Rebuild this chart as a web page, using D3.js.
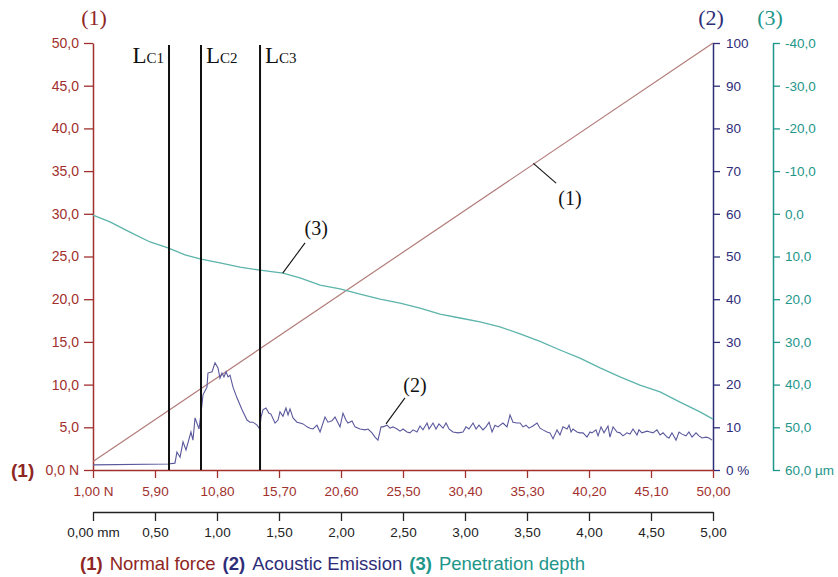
<!DOCTYPE html>
<html>
<head>
<meta charset="utf-8">
<script src="https://cdn.jsdelivr.net/npm/d3@7"></script>
<style>
  body { margin: 0; background: #fff; }
  svg { display: block; }
  .sans { font-family: "Liberation Sans", Arial, sans-serif; }
  .serif { font-family: "Liberation Serif", "Times New Roman", serif; }
</style>
</head>
<body>
<div id="chart"></div>
<script>
// ---- data ----
const forceTicks = [1, 5.9, 10.8, 15.7, 20.6, 25.5, 30.4, 35.3, 40.2, 45.1, 50];
const mmTicks = [0, 0.5, 1, 1.5, 2, 2.5, 3, 3.5, 4, 4.5, 5];
const leftTicks = [0, 5, 10, 15, 20, 25, 30, 35, 40, 45, 50];
const aeTicks = [0, 10, 20, 30, 40, 50, 60, 70, 80, 90, 100];
const depthTicks = [-40, -30, -20, -10, 0, 10, 20, 30, 40, 50, 60];

// normal force vs. applied load (N)
const forceX = [1, 50];
const forceY = [1, 50];

// critical loads, position in mm
const lcNames = ['C1', 'C2', 'C3'];
const lcMm = [0.613, 0.871, 1.347];

// acoustic emission (%) vs. distance (mm)
const aeMm = [0, 0.605, 0.661, 0.677, 0.702, 0.726, 0.75, 0.79, 0.806, 0.823, 0.855, 0.871, 0.887, 0.919, 0.927, 0.96, 0.984, 1.008, 1.024, 1.04, 1.056, 1.073, 1.089, 1.105, 1.129, 1.161, 1.202, 1.242, 1.266, 1.29, 1.323, 1.345, 1.355, 1.371, 1.395, 1.419, 1.435, 1.468, 1.492, 1.508, 1.532, 1.556, 1.573, 1.589, 1.613, 1.645, 1.669, 1.694, 1.726, 1.75, 1.774, 1.806, 1.831, 1.871, 1.895, 1.927, 1.952, 1.976, 1.992, 2.016, 2.04, 2.056, 2.089, 2.113, 2.153, 2.194, 2.218, 2.25, 2.274, 2.298, 2.323, 2.339, 2.371, 2.395, 2.419, 2.452, 2.476, 2.5, 2.532, 2.556, 2.581, 2.613, 2.637, 2.661, 2.694, 2.71, 2.742, 2.766, 2.79, 2.823, 2.847, 2.871, 2.903, 2.944, 2.984, 3.008, 3.032, 3.065, 3.089, 3.113, 3.145, 3.169, 3.194, 3.218, 3.242, 3.266, 3.306, 3.339, 3.363, 3.387, 3.419, 3.444, 3.468, 3.492, 3.516, 3.548, 3.581, 3.605, 3.629, 3.661, 3.685, 3.71, 3.742, 3.766, 3.79, 3.823, 3.839, 3.855, 3.871, 3.903, 3.927, 3.952, 3.984, 4.008, 4.024, 4.056, 4.073, 4.097, 4.121, 4.153, 4.169, 4.194, 4.226, 4.25, 4.274, 4.306, 4.331, 4.355, 4.387, 4.403, 4.427, 4.468, 4.492, 4.516, 4.548, 4.573, 4.597, 4.629, 4.645, 4.669, 4.702, 4.726, 4.75, 4.782, 4.806, 4.831, 4.863, 4.887, 4.911, 4.944, 4.968, 4.992];
const aeVal = [1.2, 1.4, 1.6, 4.2, 3.0, 6.6, 4.7, 8.9, 7.0, 12.2, 9.6, 13.3, 17.6, 19.4, 22.7, 23.0, 25.1, 23.9, 21.5, 22.7, 21.8, 23.0, 21.8, 22.2, 19.4, 16.9, 14.1, 11.7, 11.2, 11.2, 10.5, 9.6, 12.4, 14.1, 14.5, 13.3, 13.1, 11.0, 11.7, 13.6, 12.6, 14.5, 12.9, 14.3, 12.2, 11.2, 11.0, 10.8, 10.1, 9.8, 9.6, 10.5, 8.9, 12.4, 11.2, 11.5, 12.4, 11.0, 10.1, 13.3, 11.7, 11.0, 11.5, 10.1, 9.6, 9.4, 9.6, 8.7, 7.7, 7.0, 10.1, 10.1, 10.5, 9.8, 10.1, 9.6, 9.1, 9.6, 8.9, 8.7, 9.4, 8.9, 10.3, 9.4, 11.0, 9.6, 11.0, 9.6, 10.8, 9.8, 11.0, 9.6, 8.9, 8.7, 8.9, 10.1, 9.6, 11.0, 9.6, 10.5, 9.4, 10.1, 11.2, 8.9, 10.5, 10.1, 11.0, 10.1, 12.9, 11.2, 11.0, 11.0, 10.1, 10.5, 9.8, 10.3, 11.0, 9.8, 9.4, 8.9, 8.7, 7.3, 9.4, 8.2, 10.1, 9.6, 10.5, 8.9, 9.6, 8.9, 8.7, 8.7, 7.7, 8.9, 8.7, 9.4, 8.0, 10.1, 8.7, 10.3, 7.7, 10.1, 8.9, 8.7, 8.0, 8.7, 8.4, 9.6, 8.2, 9.4, 8.7, 9.1, 8.9, 8.7, 9.4, 8.2, 8.7, 7.7, 7.5, 8.7, 7.0, 8.9, 8.4, 8.0, 8.9, 7.7, 8.7, 8.0, 7.5, 7.7, 7.5, 7.0];

// penetration depth (µm) vs. distance (mm)
const depthMm = [0, 0.137, 0.298, 0.46, 0.605, 0.742, 0.871, 1.024, 1.185, 1.347, 1.532, 1.669, 1.831, 1.992, 2.153, 2.315, 2.476, 2.637, 2.798, 2.96, 3.121, 3.282, 3.444, 3.605, 3.766, 3.927, 4.089, 4.25, 4.411, 4.573, 4.734, 4.895, 5.0];
const depthVal = [0.3, 1.9, 4.3, 6.6, 8.0, 9.6, 10.6, 11.5, 12.5, 13.2, 13.9, 15.0, 16.7, 17.6, 18.8, 20.0, 20.9, 22.1, 23.5, 24.4, 25.3, 26.5, 28.1, 29.9, 31.9, 33.8, 36.1, 38.2, 40.1, 41.7, 44.1, 46.4, 48.1];

// ---- layout ----
const W = 838, H = 577;
const x0 = 93, x1 = 713, yTop = 43, yBot = 470;
const axis3X = 773, mmAxisY = 512;

const RED = '#a1302d', NAVY = '#2e2d78', TEAL = '#1e968a';
const RED_LINE = '#b27c7a', NAVY_LINE = '#5a589c', TEAL_LINE = '#5cb4aa';

const fmt = (d, n) => d3.format(`.${n}f`)(d).replace('.', ',').replace('\u2212', '-');

const svg = d3.select('#chart').append('svg')
  .attr('width', W).attr('height', H);

const xForce = d3.scaleLinear().domain([1, 50]).range([x0, x1]);
const xMm = d3.scaleLinear().domain([0, 5]).range([x0, x1]);
const yForce = d3.scaleLinear().domain([0, 50]).range([yBot, yTop]);
const yAe = d3.scaleLinear().domain([0, 100]).range([yBot, yTop]);
const yDepth = d3.scaleLinear().domain([-40, 60]).range([yTop, yBot]);

const mids = (arr) => arr.slice(1).map((v, i) => (v + arr[i]) / 2);

function styleAxis(g, color, fontSize) {
  g.selectAll('path.domain').attr('stroke', color).attr('stroke-width', 1.5);
  g.selectAll('.tick line').attr('stroke', color).attr('stroke-width', 1.3);
  g.selectAll('.tick text').attr('fill', color)
    .attr('font-family', '"Liberation Sans", Arial, sans-serif')
    .attr('font-size', fontSize);
}

// left force axis
const gL = svg.append('g').attr('transform', `translate(${x0},0)`);
gL.call(d3.axisLeft(yForce).tickValues(mids(leftTicks)).tickSize(6).tickFormat('').tickSizeOuter(0));
gL.call(d3.axisLeft(yForce).tickValues(leftTicks).tickSize(9).tickPadding(5).tickSizeOuter(0)
  .tickFormat(d => d === 0 ? '0,0 N' : fmt(d, 1)));
styleAxis(gL, RED, 14);

// right acoustic emission axis
const gR = svg.append('g').attr('transform', `translate(${x1},0)`);
gR.call(d3.axisRight(yAe).tickValues(mids(aeTicks)).tickSize(6).tickFormat('').tickSizeOuter(0));
gR.call(d3.axisRight(yAe).tickValues(aeTicks).tickSize(7).tickPadding(6).tickSizeOuter(0)
  .tickFormat(d => d === 0 ? '0 %' : d));
styleAxis(gR, NAVY, 13.5);

// depth axis
const gD = svg.append('g').attr('transform', `translate(${axis3X},0)`);
gD.call(d3.axisRight(yDepth).tickValues(mids(depthTicks)).tickSize(6).tickFormat('').tickSizeOuter(0));
gD.call(d3.axisRight(yDepth).tickValues(depthTicks).tickSize(7).tickPadding(5).tickSizeOuter(0)
  .tickFormat(d => d === 60 ? '60,0 µm' : fmt(d, 1)));
styleAxis(gD, TEAL, 13.5);

// bottom force axis
const gB = svg.append('g').attr('transform', `translate(0,${yBot})`);
gB.call(d3.axisBottom(xForce).tickValues(mids(forceTicks)).tickSize(5).tickFormat('').tickSizeOuter(0));
gB.call(d3.axisBottom(xForce).tickValues(forceTicks).tickSize(8).tickPadding(8).tickSizeOuter(0)
  .tickFormat(d => d === 1 ? '1,00 N' : fmt(d, 2)));
styleAxis(gB, RED, 13.5);

// distance axis
const gM = svg.append('g').attr('transform', `translate(0,${mmAxisY})`);
gM.call(d3.axisBottom(xMm).tickValues(mids(mmTicks)).tickSize(5).tickFormat('').tickSizeOuter(0));
gM.call(d3.axisBottom(xMm).tickValues(mmTicks).tickSize(9).tickPadding(6).tickSizeOuter(0)
  .tickFormat(d => d === 0 ? '0,00 mm' : fmt(d, 2)));
styleAxis(gM, '#222', 13.5);

// series
const plot = svg.append('g');

plot.append('path')
  .datum(forceX.map((v, i) => [v, forceY[i]]))
  .attr('fill', 'none').attr('stroke', RED_LINE).attr('stroke-width', 1.2)
  .attr('d', d3.line().x(d => xForce(d[0])).y(d => yForce(d[1])));

plot.append('path')
  .datum(depthMm.map((v, i) => [v, depthVal[i]]))
  .attr('fill', 'none').attr('stroke', TEAL_LINE).attr('stroke-width', 1.3)
  .attr('d', d3.line().x(d => xMm(d[0])).y(d => yDepth(d[1])));

plot.append('path')
  .datum(aeMm.map((v, i) => [v, aeVal[i]]))
  .attr('fill', 'none').attr('stroke', NAVY_LINE).attr('stroke-width', 1.1)
  .attr('d', d3.line().x(d => xMm(d[0])).y(d => yAe(d[1])));

// critical load lines
const lc = plot.selectAll('.lc').data(lcMm.map((m, i) => ({ m, name: lcNames[i], i })))
  .enter().append('g').attr('class', 'lc');
lc.append('line')
  .attr('x1', d => xMm(d.m)).attr('x2', d => xMm(d.m))
  .attr('y1', yTop + 2).attr('y2', yBot)
  .attr('stroke', '#111').attr('stroke-width', 2);
const lcText = lc.append('text')
  .attr('class', 'serif')
  .attr('x', d => d.i === 0 ? xMm(d.m) - 5 : xMm(d.m) + 5)
  .attr('y', 63)
  .attr('text-anchor', d => d.i === 0 ? 'end' : 'start')
  .attr('fill', '#111');
lcText.append('tspan').attr('font-size', 23).text('L');
lcText.append('tspan').attr('font-size', 15).text(d => d.name);

// callouts
const callouts = [
  { x: xForce, y: yForce, p0: [35.8, 35.9], p1: [37.6, 33.6], t: [38.7, 31.9], label: '(1)' },
  { x: xMm, y: yAe, p0: [2.363, 10.8], p1: [2.516, 16.9], t: [2.597, 19.9], label: '(2)' },
  { x: xMm, y: yDepth, p0: [1.53, 13.9], p1: [1.71, 6.8], t: [1.80, 3.3], label: '(3)' }
];
callouts.forEach(c => {
  plot.append('line')
    .attr('x1', c.x(c.p0[0])).attr('y1', c.y(c.p0[1]))
    .attr('x2', c.x(c.p1[0])).attr('y2', c.y(c.p1[1]))
    .attr('stroke', '#111').attr('stroke-width', 1.1);
  plot.append('text').attr('class', 'serif')
    .attr('x', c.x(c.t[0])).attr('y', c.y(c.t[1]) + 7)
    .attr('text-anchor', 'middle').attr('font-size', 20).attr('fill', '#111')
    .text(c.label);
});

// axis headers
const headers = [
  { x: x0 + 1, label: '(1)', color: '#8e2624' },
  { x: x1 - 2, label: '(2)', color: NAVY },
  { x: axis3X - 3, label: '(3)', color: TEAL }
];
svg.selectAll('.hdr').data(headers).enter().append('text')
  .attr('class', 'serif hdr')
  .attr('x', d => d.x).attr('y', 25)
  .attr('text-anchor', 'middle').attr('font-size', 22)
  .attr('fill', d => d.color)
  .text(d => d.label);

svg.append('text').attr('class', 'sans')
  .attr('x', 11).attr('y', yBot + 7)
  .attr('font-size', 19).attr('font-weight', 'bold').attr('fill', '#8e2624')
  .text('(1)');

// legend
const legendItems = [
  { num: '(1)', name: 'Normal force', color: '#8e2624' },
  { num: '(2)', name: 'Acoustic Emission', color: NAVY },
  { num: '(3)', name: 'Penetration depth', color: TEAL }
];
const legend = svg.append('text').attr('class', 'sans')
  .attr('x', 80).attr('y', 570).attr('font-size', 18.5);
legendItems.forEach((d, i) => {
  legend.append('tspan').attr('font-weight', 'bold').attr('fill', d.color)
    .attr('dx', i === 0 ? 0 : 7).text(d.num);
  legend.append('tspan').attr('fill', d.color).attr('dx', 7).text(d.name);
});
</script>
</body>
</html>
